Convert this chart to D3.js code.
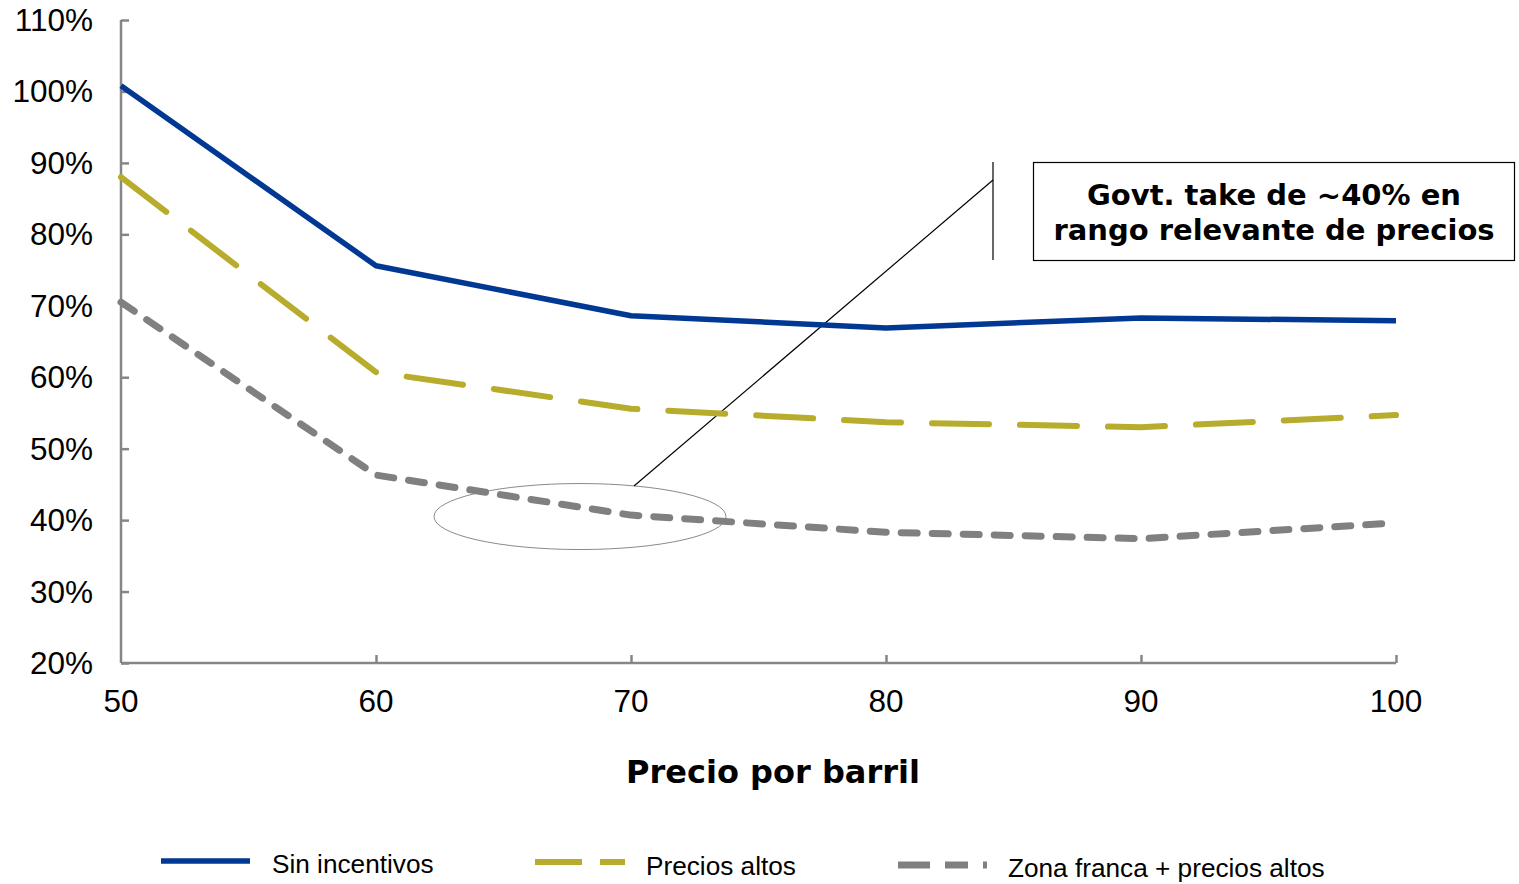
<!DOCTYPE html>
<html>
<head>
<meta charset="utf-8">
<script src="https://cdn.jsdelivr.net/npm/d3@7"></script>
<style>
  body { margin: 0; background: #fff; }
  svg { display: block; }
</style>
</head>
<body>
<div id="chart"></div>
<script>

////////////////////////////////////////////////////////////
// Data
////////////////////////////////////////////////////////////

const prices = [50, 60, 70, 80, 90, 100]
const sin_incentivos = [100.8, 75.6, 68.6, 66.9, 68.3, 67.9]
const precios_altos = [88.0, 60.7, 55.6, 53.7, 53.0, 54.7]
const zona_franca = [70.5, 46.3, 40.7, 38.3, 37.4, 39.6]
const y_ticks = [20, 30, 40, 50, 60, 70, 80, 90, 100, 110]
const series_names = ['Sin incentivos', 'Precios altos', 'Zona franca + precios altos']
const x_title = 'Precio por barril'
const note_lines = ['Govt. take de ~40% en', 'rango relevante de precios']

////////////////////////////////////////////////////////////
// Layout
////////////////////////////////////////////////////////////

const W = 1519
const H = 884
const axis_color = '#868686'
const tick_font = '"Liberation Sans", Arial, sans-serif'
const bold_font = '"DejaVu Sans", Verdana, sans-serif'

const svg = d3.select('#chart')
  .append('svg')
  .attr('width', W)
  .attr('height', H)

const x = d3.scaleLinear().domain([50, 100]).range([121, 1396])
const y = d3.scaleLinear().domain([20, 110]).range([663, 20])

const styles = [
  { color: '#003893', width: 5.5, dash: null, cap: 'butt' },
  { color: '#b8ac2d', width: 6, dash: '57,31', cap: 'round' },
  { color: '#808080', width: 7, dash: '16,15', cap: 'round' }
]

////////////////////////////////////////////////////////////
// Axes
////////////////////////////////////////////////////////////

const y_axis = svg.append('g')
  .attr('transform', `translate(${x(50)},0)`)
  .call(d3.axisRight(y).tickValues(y_ticks).tickSize(8).tickFormat(''))
y_axis.select('.domain').attr('d', `M0,${y(110)}H0V${y(20)}`)

const x_axis = svg.append('g')
  .attr('transform', `translate(0,${y(20)})`)
  .call(d3.axisTop(x).tickValues(prices.slice(1)).tickSize(8).tickFormat(''))
x_axis.select('.domain').attr('d', `M${x(50)},0H${x(100)}`)

svg.selectAll('.domain, .tick line')
  .attr('stroke', axis_color)
  .attr('stroke-width', 2.5)

svg.append('g')
  .selectAll('text')
  .data(y_ticks)
  .enter()
  .append('text')
    .attr('x', 93)
    .attr('y', d => y(d) + 11)
    .attr('text-anchor', 'end')
    .attr('font-family', tick_font)
    .attr('font-size', 31.5)
    .attr('fill', '#000')
    .text(d => d + '%')

svg.append('g')
  .selectAll('text')
  .data(prices)
  .enter()
  .append('text')
    .attr('x', d => x(d))
    .attr('y', 712)
    .attr('text-anchor', 'middle')
    .attr('font-family', tick_font)
    .attr('font-size', 31.5)
    .attr('fill', '#000')
    .text(d => d)

svg.append('text')
  .attr('x', 773)
  .attr('y', 783)
  .attr('text-anchor', 'middle')
  .attr('font-family', bold_font)
  .attr('font-weight', 'bold')
  .attr('font-size', 32)
  .attr('fill', '#000')
  .text(x_title)

////////////////////////////////////////////////////////////
// Annotation (behind lines)
////////////////////////////////////////////////////////////

svg.append('ellipse')
  .attr('cx', x(68))
  .attr('cy', y(40.5))
  .attr('rx', 146)
  .attr('ry', 33)
  .attr('fill', 'none')
  .attr('stroke', '#8a8a8a')
  .attr('stroke-width', 1)

svg.append('line')
  .attr('x1', 634).attr('y1', 486)
  .attr('x2', 993).attr('y2', 180)
  .attr('stroke', '#000')
  .attr('stroke-width', 1.2)

svg.append('line')
  .attr('x1', 993).attr('y1', 162)
  .attr('x2', 993).attr('y2', 260)
  .attr('stroke', '#000')
  .attr('stroke-width', 1.2)

svg.append('rect')
  .attr('x', 1033.5).attr('y', 162.5)
  .attr('width', 481).attr('height', 98)
  .attr('fill', '#fff')
  .attr('stroke', '#000')
  .attr('stroke-width', 1.2)

svg.append('g')
  .selectAll('text')
  .data(note_lines)
  .enter()
  .append('text')
    .attr('x', 1274)
    .attr('y', (d, i) => 205 + i * 35)
    .attr('text-anchor', 'middle')
    .attr('font-family', bold_font)
    .attr('font-weight', 'bold')
    .attr('font-size', 29)
    .attr('fill', '#000')
    .text(d => d)

////////////////////////////////////////////////////////////
// Lines
////////////////////////////////////////////////////////////

const all_series = [sin_incentivos, precios_altos, zona_franca]
const line = d3.line()
  .x((d, i) => x(prices[i]))
  .y(d => y(d))

svg.append('g')
  .selectAll('path')
  .data(all_series)
  .enter()
  .append('path')
    .attr('d', d => line(d))
    .attr('fill', 'none')
    .attr('stroke', (d, i) => styles[i].color)
    .attr('stroke-width', (d, i) => styles[i].width)
    .attr('stroke-dasharray', (d, i) => styles[i].dash)
    .attr('stroke-linecap', (d, i) => styles[i].cap)
    .attr('stroke-linejoin', 'round')

////////////////////////////////////////////////////////////
// Legend
////////////////////////////////////////////////////////////

const legend_items = [
  { x1: 161, x2: 250, y: 861, tx: 272, ty: 873, dash: null },
  { x1: 535, x2: 625, y: 862, tx: 646, ty: 875, dash: '47,18' },
  { x1: 898, x2: 987, y: 865, tx: 1008, ty: 877, dash: '32,15,23,15' }
]

const legend = svg.append('g')
  .selectAll('g')
  .data(legend_items)
  .enter()
  .append('g')

legend.append('line')
  .attr('x1', d => d.x1).attr('x2', d => d.x2)
  .attr('y1', d => d.y).attr('y2', d => d.y)
  .attr('stroke', (d, i) => styles[i].color)
  .attr('stroke-width', (d, i) => styles[i].width)
  .attr('stroke-dasharray', d => d.dash)

legend.append('text')
  .attr('x', d => d.tx)
  .attr('y', d => d.ty)
  .attr('font-family', tick_font)
  .attr('font-size', 26.2)
  .attr('fill', '#000')
  .text((d, i) => series_names[i])

</script>
</body>
</html>
